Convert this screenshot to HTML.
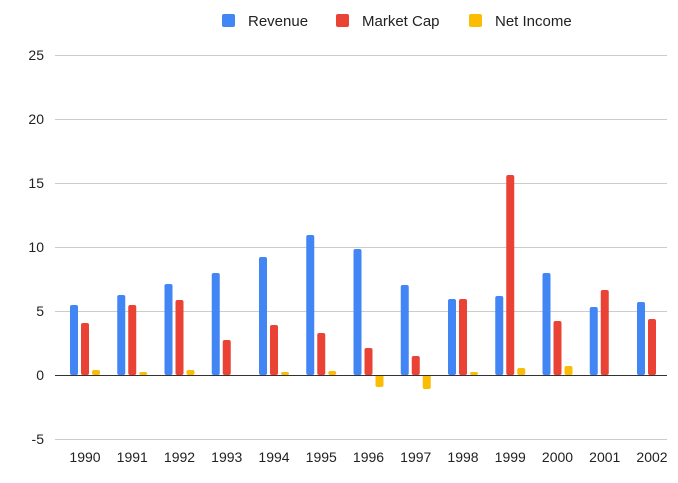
<!DOCTYPE html>
<html><head><style>
body{margin:0;background:#fff;}
svg text{font-family:"Liberation Sans",Arial,sans-serif;}
</style></head><body>
<svg width="678" height="478" xmlns="http://www.w3.org/2000/svg">
<g stroke="#cccccc" stroke-width="1">
<line x1="55" x2="667" y1="55.5" y2="55.5"/>
<line x1="55" x2="667" y1="119.5" y2="119.5"/>
<line x1="55" x2="667" y1="183.5" y2="183.5"/>
<line x1="55" x2="667" y1="247.5" y2="247.5"/>
<line x1="55" x2="667" y1="311.5" y2="311.5"/>
<line x1="55" x2="667" y1="439.5" y2="439.5"/>
</g>
<g font-size="14" fill="#222" text-anchor="end">
<text x="44" y="60">25</text><text x="44" y="124">20</text><text x="44" y="188">15</text>
<text x="44" y="252">10</text><text x="44" y="316">5</text><text x="44" y="380">0</text><text x="44" y="444">-5</text>
</g>
<g id="bars"></g>
<line x1="55" x2="667" y1="375.5" y2="375.5" stroke="#333" stroke-width="1"/>
<g font-size="14" fill="#222" text-anchor="middle" id="xl"></g>
<g font-size="15" fill="#222">
<rect x="222" y="14" width="13" height="13" rx="2" fill="#4285f4"/><text x="248" y="26">Revenue</text>
<rect x="336" y="14" width="13" height="13" rx="2" fill="#ea4335"/><text x="362" y="26">Market Cap</text>
<rect x="469" y="14" width="13" height="13" rx="2" fill="#fbbc04"/><text x="495" y="26">Net Income</text>
</g>
<script>
var R=[305,295,284,273,257,235,249,285,299,296,273,307,302];
var M=[323,305,300,340,325,333,348,356,299,175,321,290,319];
var N=[370,372,370,375,372,371,387,389,372,368,366,375,375];
var g=document.getElementById('bars'),xl=document.getElementById('xl'),ns='http://www.w3.org/2000/svg';
function bar(x,y,c){var y0=375,t=Math.min(y,y0),h=Math.abs(y0-y);if(h<1)h=1;var r=document.createElementNS(ns,'rect');r.setAttribute('x',x);r.setAttribute('y',t);r.setAttribute('width',8);r.setAttribute('height',h);r.setAttribute('rx',2);r.setAttribute('fill',c);g.appendChild(r);}
for(var i=0;i<13;i++){var b=70+i*47.25;bar(b,R[i],'#4285f4');bar(b+11,M[i],'#ea4335');if(i!=11)bar(b+22,N[i],'#fbbc04');
var t=document.createElementNS(ns,'text');t.setAttribute('x',b+15);t.setAttribute('y',462);t.textContent=1990+i;xl.appendChild(t);}
</script>
</svg>
</body></html>
